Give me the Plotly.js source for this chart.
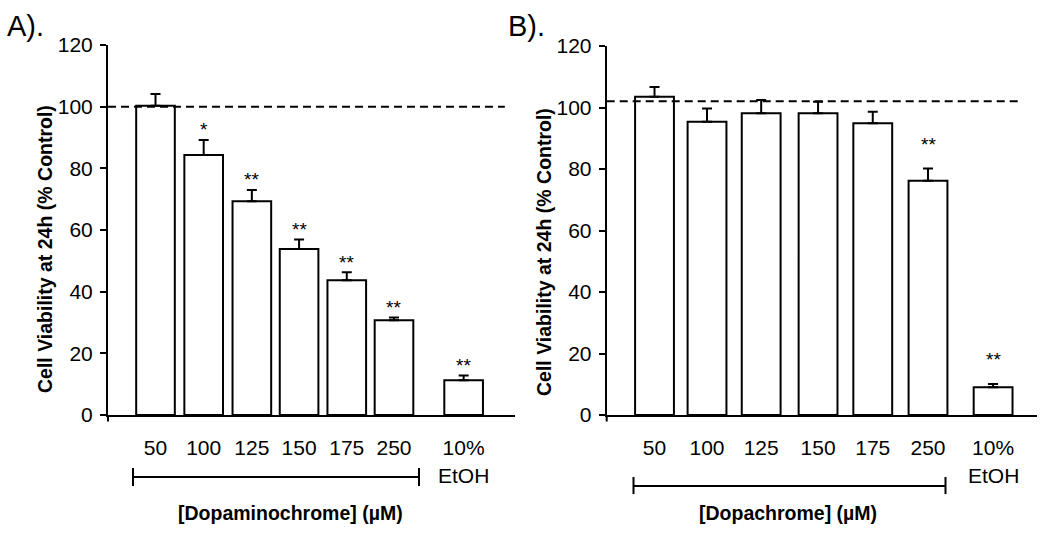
<!DOCTYPE html>
<html>
<head>
<meta charset="utf-8">
<script src="https://cdn.plot.ly/plotly-3.0.1.min.js"></script>
<style>html,body{margin:0;padding:0;background:#fff;}#chart{width:1050px;height:533px;}</style>
</head>
<body>
<div id="chart"></div>
<script>
// ---- data ----
var catLabels = ["50", "100", "125", "150", "175", "250", "10%"];
var extraLabel = "EtOH";
var dopaminochromeViability = [100.3, 84.3, 69.3, 53.8, 43.7, 30.7, 11.3];
var dopaminochromeErr = [3.8, 4.9, 3.7, 3.1, 2.6, 0.9, 1.5];
var dopaminochromeSig = ["", "*", "**", "**", "**", "**", "**"];
var dopachromeViability = [103.5, 95.4, 98.1, 98.1, 94.9, 76.2, 9.0];
var dopachromeErr = [3.2, 4.3, 4.3, 3.8, 3.7, 4.0, 1.1];
var dopachromeSig = ["", "", "", "", "", "**", "**"];
var controlLineA = 100;
var controlLineB = 102;
var yTitle = "Cell Viability at 24h (% Control)";
var xTitleA = "[Dopaminochrome] (\u00B5M)";
var xTitleB = "[Dopachrome] (\u00B5M)";

// ---- layout helpers (positions, not data) ----
var posA = [0, 1.01, 2.02, 3.01, 4.01, 5.0, 6.46];
var posB = [0, 0.96, 1.95, 2.99, 3.99, 5.0, 6.19];
var W = 1050, H = 533;
function px(x) { return x / W; }
function py(y) { return 1 - y / H; }
var FONT = "Liberation Sans, Arial, Helvetica, sans-serif";

function barTrace(pos, vals, err, xa, ya, w) {
  return {
    type: "bar", x: pos, y: vals, width: w, xaxis: xa, yaxis: ya,
    marker: { color: "#ffffff", line: { color: "#000000", width: 2 } },
    error_y: { type: "data", symmetric: false, array: err,
      arrayminus: err.map(function () { return 0; }),
      color: "#000000", thickness: 2, width: 5 },
    hoverinfo: "skip"
  };
}

var data = [
  barTrace(posA, dopaminochromeViability, dopaminochromeErr, "x", "y", 0.81),
  barTrace(posB, dopachromeViability, dopachromeErr, "x2", "y2", 0.71)
];

function xAxis(domain, range, pos, anchor) {
  return {
    domain: domain, range: range, anchor: anchor,
    tickvals: pos, ticktext: catLabels,
    ticks: "", showgrid: false, zeroline: false,
    showline: true, linecolor: "#000", linewidth: 2,
    tickfont: { family: FONT, size: 21, color: "#000" },
    ticklabelstandoff: 13, fixedrange: true
  };
}
function yAxis(domain, anchor, standoff) {
  return {
    domain: domain, range: [0, 120], dtick: 20, anchor: anchor,
    ticks: "outside", ticklen: 6, tickwidth: 2, tickcolor: "#000",
    showgrid: false, zeroline: false,
    showline: true, linecolor: "#000", linewidth: 2,
    tickfont: { family: FONT, size: 21, color: "#000" },
    ticklabelstandoff: standoff, fixedrange: true
  };
}

var shapes = [
  { type: "line", layer: "above", xref: "x domain", yref: "y", x0: 0, x1: 0.975, y0: controlLineA, y1: controlLineA,
    line: { color: "#000", width: 2, dash: "8px,5px" } },
  { type: "line", layer: "above", xref: "x2 domain", yref: "y2", x0: 0, x1: 0.959, y0: controlLineB, y1: controlLineB,
    line: { color: "#000", width: 2, dash: "8px,5px" } },
  // small axis extensions below origin
  { type: "line", xref: "x domain", yref: "paper", x0: 0, x1: 0, y0: py(415), y1: py(421.5), line: { color: "#000", width: 2 } },
  { type: "line", xref: "x2 domain", yref: "paper", x0: 0, x1: 0, y0: py(415), y1: py(421.5), line: { color: "#000", width: 2 } },
  // bracket A
  { type: "line", xref: "paper", yref: "paper", x0: px(133), x1: px(419), y0: py(477), y1: py(477), line: { color: "#000", width: 2 } },
  { type: "line", xref: "paper", yref: "paper", x0: px(133), x1: px(133), y0: py(468), y1: py(486), line: { color: "#000", width: 2 } },
  { type: "line", xref: "paper", yref: "paper", x0: px(419), x1: px(419), y0: py(468), y1: py(486), line: { color: "#000", width: 2 } },
  // bracket B
  { type: "line", xref: "paper", yref: "paper", x0: px(633.5), x1: px(945.5), y0: py(486), y1: py(486), line: { color: "#000", width: 2 } },
  { type: "line", xref: "paper", yref: "paper", x0: px(633.5), x1: px(633.5), y0: py(477), y1: py(494), line: { color: "#000", width: 2 } },
  { type: "line", xref: "paper", yref: "paper", x0: px(945.5), x1: px(945.5), y0: py(477), y1: py(494), line: { color: "#000", width: 2 } }
];

var annotations = [
  { text: "A).", xref: "paper", yref: "paper", x: px(5), y: py(26), xanchor: "left", yanchor: "middle",
    showarrow: false, font: { family: FONT, size: 29, color: "#000" } },
  { text: "B).", xref: "paper", yref: "paper", x: px(506), y: py(26), xanchor: "left", yanchor: "middle",
    showarrow: false, font: { family: FONT, size: 29, color: "#000" } },
  { text: yTitle, xref: "paper", yref: "paper", x: px(45), y: py(249), textangle: -90, xanchor: "center", yanchor: "middle",
    showarrow: false, font: { family: FONT, size: 19.5, color: "#000", weight: "bold" } },
  { text: yTitle, xref: "paper", yref: "paper", x: px(544), y: py(252), textangle: -90, xanchor: "center", yanchor: "middle",
    showarrow: false, font: { family: FONT, size: 19.5, color: "#000", weight: "bold" } },
  { text: xTitleA, xref: "paper", yref: "paper", x: px(290), y: py(513), xanchor: "center", yanchor: "middle",
    showarrow: false, font: { family: FONT, size: 19.5, color: "#000", weight: "bold" } },
  { text: xTitleB, xref: "paper", yref: "paper", x: px(788), y: py(513), xanchor: "center", yanchor: "middle",
    showarrow: false, font: { family: FONT, size: 19.5, color: "#000", weight: "bold" } },
  { text: extraLabel, xref: "x", yref: "paper", x: posA[6], y: py(475), xanchor: "center", yanchor: "middle",
    showarrow: false, font: { family: FONT, size: 21, color: "#000" } },
  { text: extraLabel, xref: "x2", yref: "paper", x: posB[6], y: py(475), xanchor: "center", yanchor: "middle",
    showarrow: false, font: { family: FONT, size: 21, color: "#000" } }
];

function addSig(pos, vals, err, sig, xr, yr, offsetPx) {
  for (var i = 0; i < sig.length; i++) {
    if (!sig[i]) continue;
    annotations.push({ text: sig[i], xref: xr, yref: yr, x: pos[i], y: vals[i] + err[i],
      xanchor: "center", yanchor: "middle", yshift: offsetPx - 5, showarrow: false,
      font: { family: FONT, size: 19, color: "#000" } });
  }
}
addSig(posA, dopaminochromeViability, dopaminochromeErr, dopaminochromeSig, "x", "y", 15);
addSig(posB, dopachromeViability, dopachromeErr, dopachromeSig, "x2", "y2", 29);

var layout = {
  width: W, height: H,
  margin: { l: 0, r: 0, t: 0, b: 0, pad: 0 },
  paper_bgcolor: "#ffffff", plot_bgcolor: "#ffffff",
  showlegend: false,
  font: { family: FONT, color: "#000" },
  xaxis: xAxis([px(108), px(515)], [-0.996, 7.537], posA, "y"),
  yaxis: yAxis([py(415), py(45)], "x", 3),
  xaxis2: xAxis([px(606.7), px(1036.7)], [-0.874, 6.987], posB, "y2"),
  yaxis2: yAxis([py(415), py(46)], "x2", 3),
  shapes: shapes,
  annotations: annotations
};

Plotly.newPlot("chart", data, layout, { staticPlot: true, displayModeBar: false });
</script>
</body>
</html>
